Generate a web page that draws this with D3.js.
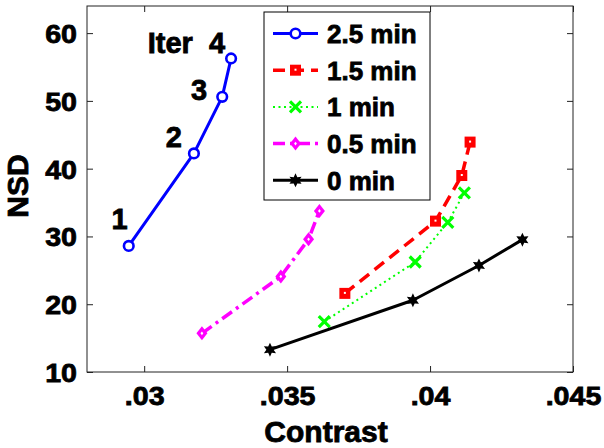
<!DOCTYPE html>
<html><head><meta charset="utf-8">
<script src="https://cdn.jsdelivr.net/npm/d3@7"></script>
<style>
body{margin:0;background:#fff;}
text{font-family:"Liberation Sans",Arial,Helvetica,sans-serif;font-weight:bold;fill:#000;stroke:#000;stroke-width:0.8px;}
</style></head>
<body><svg id="c" width="604" height="448"></svg>
<script>
// ---- data ----
const seriesNames = ["2.5 min","1.5 min","1 min","0.5 min","0 min"];
const contrast25 = [0.02946,0.03174,0.03273,0.03304];
const nsd25      = [28.6,42.25,50.6,56.26];
const contrast15 = [0.03702,0.04019,0.04111,0.04140];
const nsd15      = [21.6,32.26,38.99,43.92];
const contrast10 = [0.03630,0.03948,0.04062,0.04120];
const nsd10      = [17.44,26.23,32.09,36.43];
const contrast05 = [0.03202,0.03478,0.03575,0.03613];
const nsd05      = [15.7,24.1,29.59,33.77];
const contrast00 = [0.03440,0.03940,0.04171,0.04323];
const nsd00      = [13.3,20.58,25.72,29.53];
const xTicks = [0.03,0.035,0.04,0.045];
const xTickLabels = [".03",".035",".04",".045"];
const yTicks = [10,20,30,40,50,60];
const iterLabels = ["1","2","3","Iter  4"];

// ---- layout ----
const L=87,R=573,T=6,B=372;
const svg=d3.select("#c");
const x=d3.scaleLinear().domain([0.028,0.045]).range([L,R]);
const y=d3.scaleLinear().domain([10,64]).range([B,T]);

const styles=[
 {color:"#0000ff",dash:null,width:3,marker:"circle"},
 {color:"#ff0000",dash:"12,7",width:3.5,marker:"square"},
 {color:"#00ff00",dash:"2,3.5",width:2,marker:"x"},
 {color:"#ff00ff",dash:"12,5,3,5",width:3.5,marker:"diamond"},
 {color:"#000000",dash:null,width:3,marker:"star"}
];
const series=[
 {xs:contrast25,ys:nsd25},{xs:contrast15,ys:nsd15},{xs:contrast10,ys:nsd10},
 {xs:contrast05,ys:nsd05},{xs:contrast00,ys:nsd00}
];

// axes box
svg.append("rect").attr("x",L).attr("y",T).attr("width",R-L).attr("height",B-T)
  .attr("fill","none").attr("stroke","#222").attr("stroke-width",1);

const tfx=(d)=>xTickLabels[xTicks.indexOf(d)];
const gx=svg.append("g").attr("transform",`translate(0,${B})`)
  .call(d3.axisBottom(x).tickValues(xTicks).tickFormat(tfx).tickSize(-6).tickPadding(0));
const gxt=svg.append("g").attr("transform",`translate(0,${T})`)
  .call(d3.axisTop(x).tickValues(xTicks).tickFormat("").tickSize(-6));
const gy=svg.append("g").attr("transform",`translate(${L},0)`)
  .call(d3.axisLeft(y).tickValues(yTicks).tickSize(-6).tickPadding(0));
const gyr=svg.append("g").attr("transform",`translate(${R},0)`)
  .call(d3.axisRight(y).tickValues(yTicks).tickFormat("").tickSize(-6));
[gx,gxt,gy,gyr].forEach(g=>{g.select(".domain").remove();
  g.selectAll(".tick line").attr("stroke","#222").attr("stroke-width",1);});
gx.selectAll(".tick text").attr("font-size",26).attr("y",33).attr("dy",0)
  .attr("transform","scale(1.1,1)").style("font-family","'Liberation Sans',Arial,sans-serif").style("font-weight","bold");
gy.selectAll(".tick text").attr("font-size",26).attr("x",-10/1.1).attr("dy","0.36em")
  .attr("transform","scale(1.1,1)").style("font-family","'Liberation Sans',Arial,sans-serif").style("font-weight","bold");

// axis labels
svg.append("text").attr("x",326).attr("y",442).attr("text-anchor","middle")
  .attr("font-size",30).text("Contrast");
svg.append("text").attr("transform","translate(28,186) rotate(-90)").attr("text-anchor","middle")
  .attr("font-size",30).text("NSD");

// markers
function drawMarker(g,type,color,cx,cy){
  if(type==="circle"){
    g.append("circle").attr("cx",cx).attr("cy",cy).attr("r",4.8).attr("fill","#fff")
     .attr("stroke",color).attr("stroke-width",2.6);
  }else if(type==="square"){
    g.append("rect").attr("x",cx-5.5).attr("y",cy-5.5).attr("width",11).attr("height",11)
     .attr("fill",color);
    g.append("rect").attr("x",cx-1).attr("y",cy-1.5).attr("width",2).attr("height",2).attr("fill","#fff");
  }else if(type==="x"){
    g.append("path").attr("d",`M${cx-5.5},${cy-5.5}L${cx+5.5},${cy+5.5}M${cx-5.5},${cy+5.5}L${cx+5.5},${cy-5.5}`)
     .attr("stroke",color).attr("stroke-width",3.2).attr("fill","none");
  }else if(type==="diamond"){
    g.append("path").attr("d",`M${cx},${cy-7}L${cx+5.5},${cy}L${cx},${cy+7}L${cx-5.5},${cy}Z`)
     .attr("fill",color);
    g.append("path").attr("d",`M${cx},${cy-1.8}L${cx+1.4},${cy}L${cx},${cy+1.8}L${cx-1.4},${cy}Z`)
     .attr("fill","#fff");
  }else if(type==="star"){
    const pts=[];
    for(let k=0;k<12;k++){const a=-Math.PI/2+k*Math.PI/6;const r=k%2?3.6:7;
      pts.push([cx+r*Math.cos(a),cy+r*Math.sin(a)]);}
    g.append("path").attr("d","M"+pts.map(p=>p.join(",")).join("L")+"Z").attr("fill",color);
  }
}

// series
const line=d3.line().x(d=>x(d[0])).y(d=>y(d[1]));
series.forEach((s,i)=>{
  const st=styles[i];
  const data=s.xs.map((v,j)=>[v,s.ys[j]]);
  const g=svg.append("g");
  g.append("path").attr("d",line(data)).attr("fill","none").attr("stroke",st.color)
   .attr("stroke-width",st.width).attr("stroke-dasharray",st.dash).attr("stroke-linejoin","round");
  data.forEach(d=>drawMarker(g,st.marker,st.color,x(d[0]),y(d[1])));
});

// iteration annotations on the 2.5 min curve
const off=[[-1,-17],[-12,-6],[-15,3],[-6,-5]];
iterLabels.forEach((t,j)=>{
  svg.append("text").attr("x",x(contrast25[j])+off[j][0]).attr("y",y(nsd25[j])+off[j][1])
   .attr("text-anchor","end").attr("font-size",29).attr("xml:space","preserve")
   .style("white-space","pre").text(t);
});

// legend
const lg=svg.append("g");
lg.append("rect").attr("x",264).attr("y",12).attr("width",166).attr("height",188)
  .attr("fill","#fff").attr("stroke","#000").attr("stroke-width",1);
seriesNames.forEach((n,i)=>{
  const st=styles[i];const cy=33.5+i*36.7;
  lg.append("line").attr("x1",273).attr("x2",318).attr("y1",cy).attr("y2",cy)
    .attr("stroke",st.color).attr("stroke-width",st.width).attr("stroke-dasharray",st.dash);
  drawMarker(lg,st.marker,st.color,295.5,cy);
  lg.append("text").attr("x",327).attr("y",cy+9.5).attr("font-size",26).text(n);
});
</script></body></html>
